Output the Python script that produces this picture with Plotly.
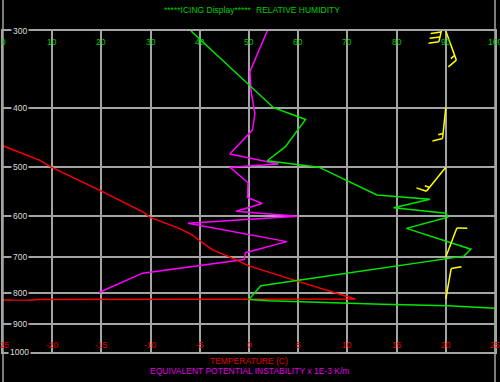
import numpy as np
import plotly.graph_objects as go

# ---------------- data ----------------
p_ticks = [300, 400, 500, 600, 700, 800, 900, 1000]
rh_ticks = [0, 10, 20, 30, 40, 50, 60, 70, 80, 90, 100]
t_ticks = [-25, -20, -15, -10, -5, 0, 5, 10, 15, 20, 25]

# temperature (C) profile
temp_p = [442, 462, 487, 500, 545, 591, 603, 629, 644, 657, 681, 700, 724, 768, 820, 821, 823, 823]
temp_c = [-28.0, -25.0, -21.3, -20.1, -15.2, -10.8, -10.1, -7.1, -5.8, -5.1, -3.75, -2.0, 0.0, 5.06, 10.8, -21.6, -21.8, -28.0]

# equivalent potential instability (x 1E-3 K/m)
epi_p = [300, 349, 375, 409, 435, 476, 494, 500, 530, 560, 573, 590, 601, 617, 661, 689, 707, 744, 800]
epi_v = [1.85, 0.1, 0.2, 0.6, 0.35, -1.95, 3.0, -1.95, -0.1, -0.15, 1.35, -1.3, 4.9, -6.2, 3.85, -0.35, -0.5, -10.8, -15.25]

# relative humidity (%)
rh_p = [300, 365, 400, 418, 463, 488, 500, 555, 564, 582, 594, 603, 629, 680, 698, 780, 821, 825, 830, 836, 841, 849, 1000]
rh_v = [38.2, 49.7, 55.0, 61.5, 57.4, 53.7, 64.2, 76.0, 86.8, 79.4, 90.1, 90.4, 82.0, 95.1, 93.7, 52.4, 50.0, 54.0, 63.5, 77.0, 90.5, 100.0, 100.0]

# winds
wind_p = [279, 300, 400, 500, 700, 820]
wind_dir = [193, 160, 186, 219, 21, 10]
wind_kt = [30, 15, 15, 15, 10, 10]
barb_rh = 90

# ---------------- layout geometry ----------------
W, H = 500, 382
ML, MR, MT, MB = 3, 3, 31, 30
PW = W - ML - MR
PH = H - MT - MB
P_TOP, P_BOT = 300.0, 1000.0
LOGSPAN = np.log10(P_BOT / P_TOP)

GREEN_T = "#00cc00"
RED_T = "#e00000"
MAG_T = "#e000e0"
GRID = "#a4a4a4"
FONT = "Liberation Sans Narrow, Liberation Sans, Arial, sans-serif"


def barb_segments(p0, d, kt):
    """Wind barb geometry in screen pixels, converted to (RH, p) data coords."""
    L, full_len, half_len, spacing, ang = 31.0, 10.5, 5.0, 5.0, np.radians(70)
    th = np.radians(d)
    vx, vy = np.sin(th), -np.cos(th)
    fx = vx * np.cos(ang) - vy * np.sin(ang)
    fy = vx * np.sin(ang) + vy * np.cos(ang)

    def conv(dx, dy):
        return barb_rh + dx * 100.0 / PW, p0 * 10 ** (dy * LOGSPAN / PH)

    xs, ys = [], []
    for (a, b) in [((0, 0), (vx * L, vy * L))]:
        for q in (a, b):
            r, p = conv(*q)
            xs.append(r); ys.append(p)
        xs.append(None); ys.append(None)
    n_full = kt // 10
    n_half = 1 if (kt % 10) >= 5 else 0
    dist = L
    for i in range(n_full + n_half):
        ln = full_len if i < n_full else half_len
        bx, by = vx * dist, vy * dist
        for q in ((bx, by), (bx + fx * ln, by + fy * ln)):
            r, p = conv(*q)
            xs.append(r); ys.append(p)
        xs.append(None); ys.append(None)
        dist -= spacing
    return xs, ys


bx, by = [], []
for p0, d, kt in zip(wind_p, wind_dir, wind_kt):
    xs, ys = barb_segments(p0, d, kt)
    bx += xs; by += ys

fig = go.Figure()
fig.add_trace(go.Scatter(x=rh_v, y=rh_p, xaxis="x2", yaxis="y", mode="lines",
                         line=dict(color="#00e600", width=1.5), hoverinfo="skip"))
fig.add_trace(go.Scatter(x=epi_v, y=epi_p, xaxis="x", yaxis="y", mode="lines",
                         line=dict(color="#ff00ff", width=1.5), hoverinfo="skip"))
fig.add_trace(go.Scatter(x=temp_c, y=temp_p, xaxis="x", yaxis="y", mode="lines",
                         line=dict(color="#ff0000", width=1.5), hoverinfo="skip"))
fig.add_trace(go.Scatter(x=bx, y=by, xaxis="x2", yaxis="y", mode="lines",
                         line=dict(color="#ffff00", width=1.5), hoverinfo="skip",
                         connectgaps=False))

ann = []
for v in rh_ticks:
    ann.append(dict(text=str(v), xref="x2", x=v, yref="paper", y=1, yshift=-11,
                    showarrow=False, xanchor="center", yanchor="middle",
                    font=dict(color=GREEN_T, size=8.5, family=FONT)))
for v in t_ticks:
    ann.append(dict(text=str(v), xref="x", x=v, yref="paper", y=0, yshift=7,
                    showarrow=False, xanchor="center", yanchor="middle",
                    font=dict(color=RED_T, size=8.5, family=FONT)))
for p in p_ticks:
    ann.append(dict(text=str(p), xref="paper", x=(20 - ML) / PW, yref="y", y=np.log10(p),
                    showarrow=False, xanchor="center", yanchor="middle",
                    bgcolor="black", borderpad=1,
                    font=dict(color="#dcdcdc", size=8.5, family=FONT)))
ann.append(dict(text="*****ICING Display*****", xref="paper", x=(208.5 - ML) / PW,
                yref="paper", y=1, yshift=21, showarrow=False, xanchor="center",
                yanchor="middle", font=dict(color=GREEN_T, size=8.5, family=FONT)))
ann.append(dict(text="RELATIVE HUMIDITY", xref="paper", x=(299 - ML) / PW,
                yref="paper", y=1, yshift=21, showarrow=False, xanchor="center",
                yanchor="middle", font=dict(color=GREEN_T, size=8.5, family=FONT)))
ann.append(dict(text="TEMPERATURE (C)", xref="paper", x=0.5, yref="paper", y=0,
                yshift=-9, showarrow=False, xanchor="center", yanchor="middle",
                font=dict(color=RED_T, size=8.5, family=FONT)))
ann.append(dict(text="EQUIVALENT POTENTIAL INSTABILITY x 1E-3 K/m", xref="paper", x=0.5,
                yref="paper", y=0, yshift=-19, showarrow=False, xanchor="center",
                yanchor="middle", font=dict(color=MAG_T, size=8.5, family=FONT)))

shapes = [
    dict(type="line", xref="paper", yref="paper", x0=0, x1=0, y0=-MB / PH, y1=1 + MT / PH,
         line=dict(color=GRID, width=1.5)),
    dict(type="line", xref="paper", yref="paper", x0=1, x1=1, y0=-MB / PH, y1=1 + MT / PH,
         line=dict(color=GRID, width=1.5)),
]

fig.update_layout(
    width=W, height=H, margin=dict(l=ML, r=MR, t=MT, b=MB),
    paper_bgcolor="black", plot_bgcolor="black", showlegend=False,
    hovermode=False,
    xaxis=dict(range=[-25, 25], tickvals=t_ticks, showticklabels=False, ticks="",
               showgrid=True, gridcolor=GRID, gridwidth=1.5, zeroline=False,
               showline=True, mirror=True, linecolor=GRID, linewidth=1.5),
    xaxis2=dict(range=[0, 100], overlaying="x", side="top", showticklabels=False,
                ticks="", showgrid=False, zeroline=False, showline=False),
    yaxis=dict(type="log", range=[np.log10(P_BOT), np.log10(P_TOP)], tickvals=p_ticks,
               showticklabels=False, ticks="", showgrid=True, gridcolor=GRID,
               gridwidth=1.5, zeroline=False, showline=True, mirror=True,
               linecolor=GRID, linewidth=1.5),
    annotations=ann, shapes=shapes,
)

fig.write_html("out.html", config={"displayModeBar": False})
